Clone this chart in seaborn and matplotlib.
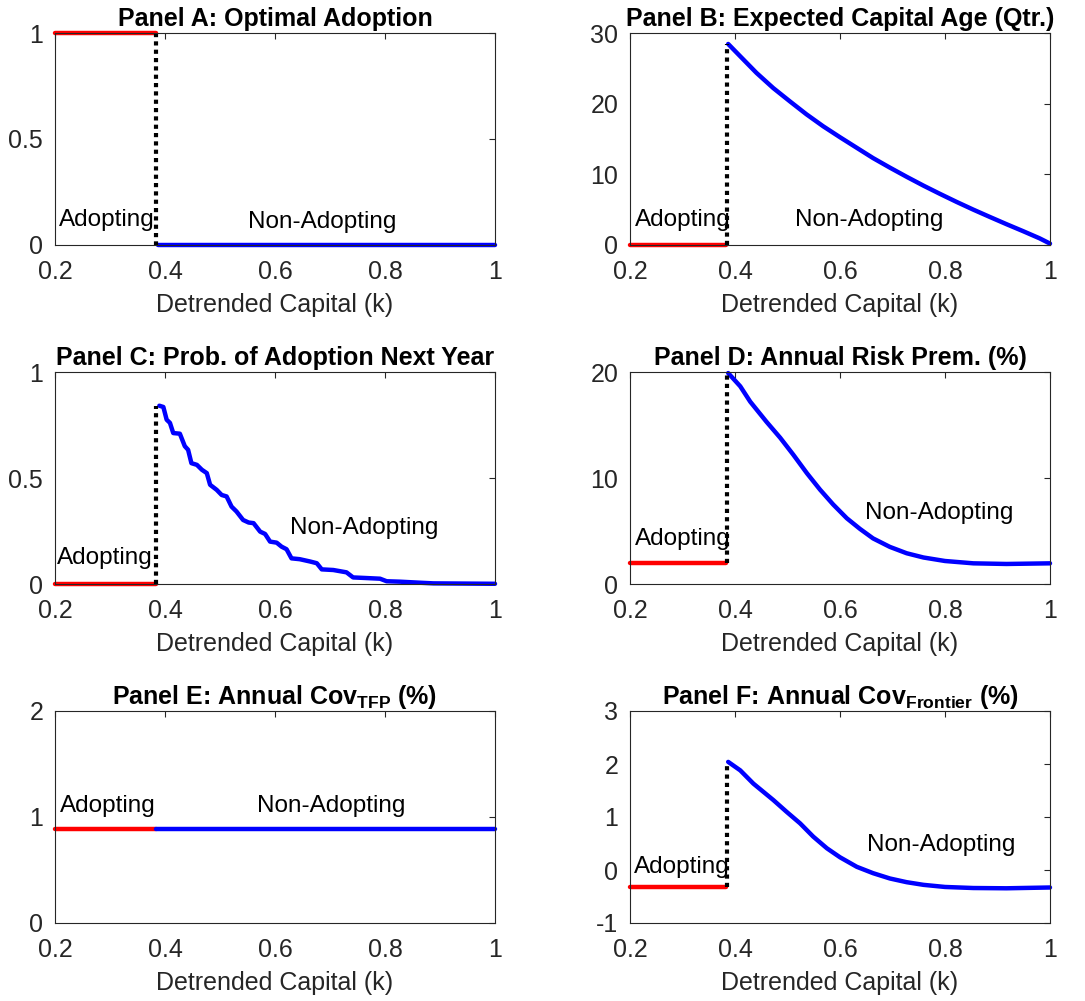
import numpy as np
import pandas as pd
import seaborn as sns
import matplotlib.pyplot as plt
from matplotlib.ticker import FuncFormatter

sns.set_style("white")
plt.rcParams['font.family'] = ['Liberation Sans', 'DejaVu Sans']
plt.rcParams['mathtext.fontset'] = 'custom'
plt.rcParams['mathtext.rm'] = 'Liberation Sans'
plt.rcParams['mathtext.bf'] = 'Liberation Sans:bold'

# --- values ---
k_switch = 0.384          # adoption threshold (dotted line)
red_x = [0.2, 0.383]      # adopting region
red_A, red_B, red_C, red_D, red_E, red_F = 1.0, 0.0, 0.0, 1.95, 0.885, -0.33

# Panel A: optimal adoption (non-adopting)
a_x = [0.387, 1.0]
a_y = [0.0, 0.0]

# Panel B: expected capital age
b_x = [0.387, 0.41, 0.441, 0.473, 0.505, 0.536, 0.568, 0.6, 0.632, 0.663, 0.695,
       0.727, 0.759, 0.79, 0.822, 0.854, 0.886, 0.917, 0.949, 0.98, 1.0]
b_y = [28.45, 26.7, 24.35, 22.2, 20.3, 18.5, 16.8, 15.25, 13.75, 12.3, 10.95,
       9.65, 8.4, 7.25, 6.1, 5.0, 3.95, 2.95, 1.95, 0.95, 0.2]

# Panel C: prob. of adoption next year
c_x = [0.3897, 0.397, 0.403, 0.409, 0.415, 0.427, 0.436, 0.442, 0.448, 0.458, 0.467,
       0.476, 0.482, 0.494, 0.503, 0.512, 0.521, 0.530, 0.542, 0.552, 0.561, 0.573,
       0.582, 0.591, 0.603, 0.612, 0.621, 0.630, 0.645, 0.664, 0.676, 0.685, 0.706,
       0.730, 0.742, 0.767, 0.791, 0.803, 0.827, 0.864, 0.888, 1.0]
c_y = [0.841, 0.835, 0.775, 0.76, 0.712, 0.709, 0.65, 0.633, 0.57, 0.562, 0.539,
       0.523, 0.468, 0.444, 0.42, 0.413, 0.365, 0.342, 0.302, 0.29, 0.287, 0.247,
       0.236, 0.2, 0.195, 0.176, 0.164, 0.121, 0.117, 0.106, 0.098, 0.069, 0.066,
       0.055, 0.031, 0.028, 0.025, 0.013, 0.011, 0.006, 0.003, 0.001]

# Panel D: annual risk premium
d_x = [0.387, 0.41, 0.429, 0.46, 0.486, 0.511, 0.537, 0.562, 0.587, 0.613, 0.638,
       0.663, 0.695, 0.727, 0.759, 0.8, 0.854, 0.917, 1.0]
d_y = [19.9, 18.65, 17.2, 15.3, 13.8, 12.2, 10.45, 8.9, 7.5, 6.2, 5.2,
       4.3, 3.5, 2.9, 2.5, 2.17, 1.95, 1.89, 1.95]

# Panel E: annual cov TFP
e_x = [0.383, 1.0]
e_y = [0.885, 0.885]

# Panel F: annual cov frontier
f_x = [0.387, 0.41, 0.435, 0.473, 0.498, 0.524, 0.549, 0.575, 0.6, 0.632, 0.663,
       0.695, 0.727, 0.759, 0.8, 0.854, 0.917, 1.0]
f_y = [2.04, 1.88, 1.63, 1.32, 1.10, 0.88, 0.63, 0.41, 0.24, 0.06, -0.06,
       -0.16, -0.23, -0.28, -0.32, -0.34, -0.345, -0.33]

x_ticks = [0.2, 0.4, 0.6, 0.8, 1.0]

panels = [
    dict(title='Panel A: Optimal Adoption', red=red_A, bx=a_x, by=a_y, ylim=(0, 1),
         yticks=[0, 0.5, 1], dotted=True,
         adopt=(0.208, 0.12), nonadopt=(0.551, 0.11)),
    dict(title='Panel B: Expected Capital Age (Qtr.)', red=red_B, bx=b_x, by=b_y, ylim=(0, 30),
         yticks=[0, 10, 20, 30], dotted=True,
         adopt=(0.209, 3.5), nonadopt=(0.514, 3.5)),
    dict(title='Panel C: Prob. of Adoption Next Year', red=red_C, bx=c_x, by=c_y, ylim=(0, 1),
         yticks=[0, 0.5, 1], dotted=True,
         adopt=(0.204, 0.124), nonadopt=(0.627, 0.266)),
    dict(title='Panel D: Annual Risk Prem. (%)', red=red_D, bx=d_x, by=d_y, ylim=(0, 20),
         yticks=[0, 10, 20], dotted=True,
         adopt=(0.209, 4.25), nonadopt=(0.648, 6.7)),
    dict(title=r'Panel E: Annual Cov$_{\mathbf{TFP}}$ (%)', red=red_E, bx=e_x, by=e_y, ylim=(0, 2),
         yticks=[0, 1, 2], dotted=False,
         adopt=(0.209, 1.107), nonadopt=(0.567, 1.1)),
    dict(title=r'Panel F: Annual Cov$_{\mathbf{Frontier}}$ (%)', red=red_F, bx=f_x, by=f_y, ylim=(-1, 3),
         yticks=[-1, 0, 1, 2, 3], dotted=True,
         adopt=(0.208, 0.062), nonadopt=(0.652, 0.47)),
]

fig = plt.figure(figsize=(10.85, 10.01), dpi=100)
W, H = 1085, 1001
lefts = [55, 630]
widths = [440, 420]
tops = [33, 372, 711]
ax_h = 212

axis_col = '#262626'
for i, p in enumerate(panels):
    row, col = divmod(i, 2)
    ax = fig.add_axes([lefts[col] / W, 1 - (tops[row] + ax_h) / H, widths[col] / W, ax_h / H])

    sns.lineplot(x=red_x, y=[p['red']] * 2, ax=ax, color='red', lw=3.2, clip_on=False)
    sns.lineplot(x=p['bx'], y=p['by'], ax=ax, color='blue', lw=3.2, clip_on=False,
                 estimator=None, sort=False)
    if p['dotted']:
        ax.plot([k_switch, k_switch], [p['red'], p['by'][0]], color='black', lw=3,
                linestyle=(0, (1, 1)), clip_on=False)

    ax.text(p['adopt'][0], p['adopt'][1], 'Adopting', fontsize=17.5, va='center',
            ha='left', color='black')
    ax.text(p['nonadopt'][0], p['nonadopt'][1], 'Non-Adopting', fontsize=17.5,
            va='center', ha='left', color='black')

    ax.set_xlim(0.2, 1)
    ax.set_ylim(*p['ylim'])
    ax.set_xticks(x_ticks)
    ax.set_yticks(p['yticks'])
    fmt = FuncFormatter(lambda v, pos: f'{v:g}')
    ax.xaxis.set_major_formatter(fmt)
    ax.yaxis.set_major_formatter(fmt)
    ax.tick_params(direction='in', length=4, width=0.8, colors=axis_col, labelsize=18,
                   top=True, right=True)
    ax.tick_params(axis='x', pad=11)
    ax.tick_params(axis='y', pad=8.5)
    for s in ax.spines.values():
        s.set_color(axis_col)
        s.set_linewidth(0.8)
        s.set_visible(True)
    ax.set_xlabel('Detrended Capital (k)', fontsize=18, color=axis_col, labelpad=6)
    ax.set_ylabel('')
    ax.set_title(p['title'], fontsize=18, fontweight='bold', pad=5, color='black')

fig.savefig('out.png', dpi=100)
